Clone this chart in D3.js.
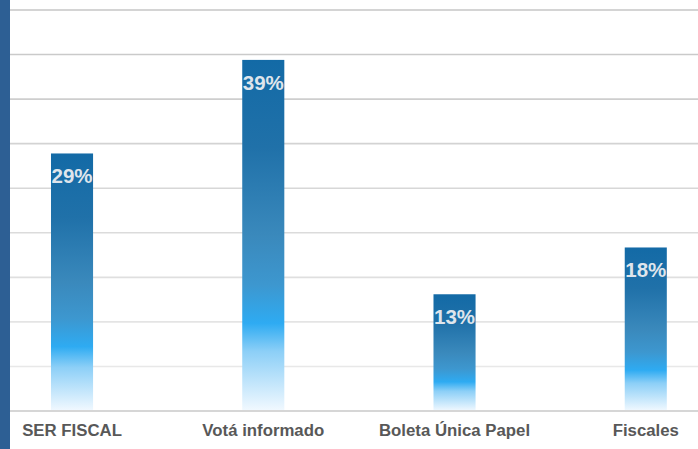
<!DOCTYPE html>
<head>
<meta charset="utf-8">
<title>Bar chart</title>
<style>
body { margin: 0; background: #fff; }
svg { font-family: "Liberation Sans", Arial, sans-serif; display: block; }
.x.axis path { display: none; }
.x.axis text { font-size: 16.8px; font-weight: bold; fill: #585858; }
.val { font-size: 20.5px; font-weight: bold; fill: #dfe5ec; }
</style>
</head>
<body>
<svg id="chart"></svg>
<script src="https://cdn.jsdelivr.net/npm/d3@7"></script>
<script>

// data
var categories = ["SER FISCAL", "Votá informado", "Boleta Única Papel", "Fiscales"];
var values = [28.9, 39.4, 13.1, 18.35];
var labels = ["29%", "39%", "13%", "18%"];
var gridTicks = [0, 5, 10, 15, 20, 25, 30, 35, 40, 45];

var width = 698, height = 449,
    baseline = 411, plotTop = 10, stripW = 10;

var svg = d3.select("#chart")
    .attr("width", width)
    .attr("height", height);

var defs = svg.append("defs");
var grad = defs.append("linearGradient")
    .attr("id", "barGrad")
    .attr("x1", 0).attr("y1", 0)
    .attr("x2", 0).attr("y2", 1);
grad.append("stop").attr("offset", "0%").attr("stop-color", "#136aa6");
grad.append("stop").attr("offset", "25%").attr("stop-color", "#2071a9");
grad.append("stop").attr("offset", "50%").attr("stop-color", "#3a89bc");
grad.append("stop").attr("offset", "64%").attr("stop-color", "#3d97cf");
grad.append("stop").attr("offset", "75%").attr("stop-color", "#2eabf2");
grad.append("stop").attr("offset", "83%").attr("stop-color", "#8ccff7");
grad.append("stop").attr("offset", "100%").attr("stop-color", "#f2f9ff");

var x = d3.scaleBand()
    .domain(categories)
    .range([-23.6, 741.4])
    .paddingInner(0.78)
    .paddingOuter(0.39);

var y = d3.scaleLinear()
    .domain([0, 45])
    .range([baseline, plotTop]);

var greyScale = d3.scaleLinear()
    .domain([45, 0])
    .range(["#c6c6c6", "#ececec"]);

// left strip
svg.append("rect")
    .attr("x", 0).attr("y", 0)
    .attr("width", stripW).attr("height", height)
    .attr("fill", "#2d5f94");

// gridlines
svg.append("g")
  .selectAll("line")
  .data(gridTicks.filter(function(d) { return d > 0; }))
  .enter().append("line")
    .attr("x1", stripW).attr("x2", width)
    .attr("y1", function(d) { return y(d); })
    .attr("y2", function(d) { return y(d); })
    .attr("stroke", function(d) { return greyScale(d); })
    .attr("stroke-width", 1.6);

// bars
var data = categories.map(function(c, i) { return {cat: c, v: values[i], label: labels[i]}; });

svg.append("g")
  .selectAll("rect")
  .data(data)
  .enter().append("rect")
    .attr("x", function(d) { return x(d.cat); })
    .attr("y", function(d) { return y(d.v); })
    .attr("width", x.bandwidth())
    .attr("height", function(d) { return y(0) - y(d.v); })
    .attr("fill", "url(#barGrad)");

svg.append("g")
  .selectAll("text")
  .data(data)
  .enter().append("text")
    .attr("class", "val")
    .attr("text-anchor", "middle")
    .attr("x", function(d) { return x(d.cat) + x.bandwidth() / 2; })
    .attr("y", function(d) { return y(d.v) + 30; })
    .text(function(d) { return d.label; });

// baseline
svg.append("line")
    .attr("x1", stripW).attr("x2", width)
    .attr("y1", baseline).attr("y2", baseline)
    .attr("stroke", "#d6d6d6")
    .attr("stroke-width", 2);

// category axis
svg.append("g")
    .attr("class", "x axis")
    .attr("transform", "translate(0," + baseline + ")")
    .call(d3.axisBottom(x).tickSize(0).tickPadding(13.5));

</script>
</body>
